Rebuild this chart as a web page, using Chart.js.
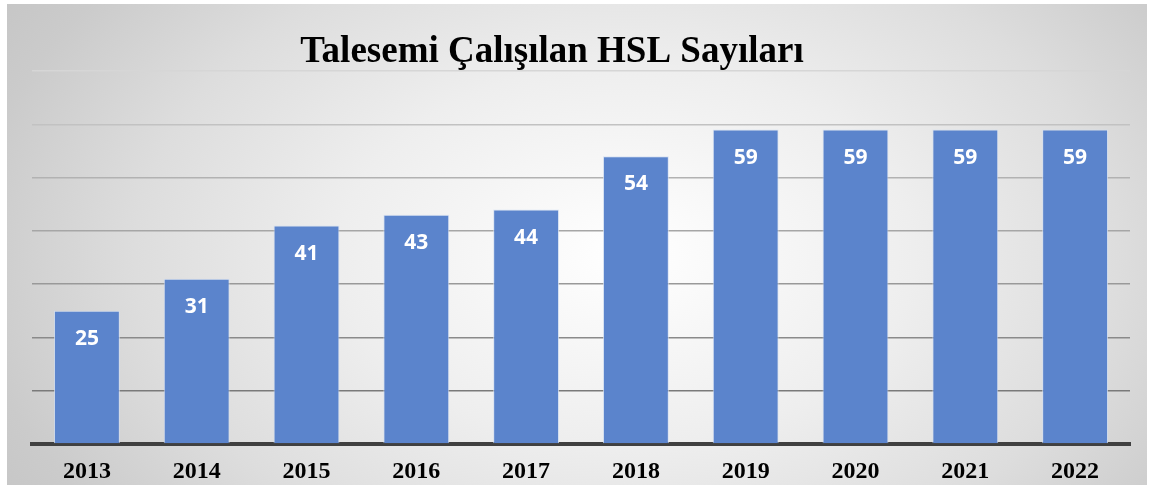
<!DOCTYPE html>
<html>
<head>
<meta charset="utf-8">
<script src="https://cdn.jsdelivr.net/npm/chart.js@4/dist/chart.umd.min.js"></script>
<style>
  html, body { margin: 0; padding: 0; background: #fff; }
  #panel { position: absolute; left: 7px; top: 4px; width: 1140px; height: 481px; overflow: hidden; }
  #wrap { position: absolute; left: 0; top: 0; width: 1140px; height: 496px; }
</style>
</head>
<body>
<div id="panel"><div id="wrap"><canvas id="hslChart"></canvas></div></div>
<script>
const years = ['2013', '2014', '2015', '2016', '2017', '2018', '2019', '2020', '2021', '2022'];
const hslCounts = [25, 31, 41, 43, 44, 54, 59, 59, 59, 59];
const chartTitle = 'Talesemi Çalışılan HSL Sayıları';

// gri-beyaz radyal arka plan
const bgPlugin = {
  id: 'bg',
  beforeDraw(chart) {
    const c = chart.ctx;
    c.save();
    c.translate(620, 250);
    c.scale(1, 0.66);
    const g = c.createRadialGradient(0, 0, 0, 0, 0, 820);
    g.addColorStop(0, '#ffffff');
    g.addColorStop(0.35, '#eeeeee');
    g.addColorStop(0.6, '#dddddd');
    g.addColorStop(0.8, '#cbcbcb');
    g.addColorStop(1, '#c0c0c0');
    c.fillStyle = g;
    c.fillRect(-2000, -2000, 4000, 4000);
    c.restore();
  }
};

// başlık ve çubuk üstü değerler
const textPlugin = {
  id: 'texts',
  afterDatasetsDraw(chart) {
    const c = chart.ctx;
    c.save();
    c.fillStyle = '#000';
    c.font = 'bold 37px "Liberation Serif", "Times New Roman", serif';
    c.textAlign = 'center';
    c.textBaseline = 'alphabetic';
    c.fillText(chartTitle, 545, 58);

    c.fillStyle = '#fff';
    c.font = 'bold 21px "Open Sans", sans-serif';
    c.textBaseline = 'middle';
    chart.getDatasetMeta(0).data.forEach(function(bar, i) {
      c.fillText(String(hslCounts[i]), bar.x, bar.y + 28);
    });
    c.restore();
  }
};

const gridShades = { 10: '#7a7a7a', 20: '#8a8a8a', 30: '#999999', 40: '#a6a6a6', 50: '#b2b2b2', 60: '#c2c2c2', 70: '#d6d6d6' };

new Chart(document.getElementById('hslChart'), {
  type: 'bar',
  data: {
    labels: years,
    datasets: [{
      data: hslCounts,
      backgroundColor: '#5b84cc',
      borderColor: 'rgba(210, 222, 242, 0.8)',
      borderWidth: 1,
      barPercentage: 0.6,
      categoryPercentage: 1
    }]
  },
  options: {
    responsive: true,
    maintainAspectRatio: false,
    animation: false,
    layout: { padding: { top: 67, left: 25, right: 17, bottom: 0 } },
    plugins: { legend: { display: false }, title: { display: false }, tooltip: { enabled: false } },
    scales: {
      x: {
        grid: { display: false, drawTicks: false },
        border: { color: '#404040', width: 4 },
        ticks: {
          color: '#000',
          padding: 16,
          font: { family: '"Liberation Serif", "Times New Roman", serif', size: 24, weight: 'bold', lineHeight: 1 }
        }
      },
      y: {
        min: 0,
        max: 70,
        ticks: { display: false, stepSize: 10 },
        border: { display: false },
        grid: {
          drawTicks: false,
          lineWidth: 1.5,
          color: function(ctx) { return gridShades[ctx.tick.value] || 'rgba(0,0,0,0)'; }
        }
      }
    }
  },
  plugins: [bgPlugin, textPlugin]
});
</script>
</body>
</html>
